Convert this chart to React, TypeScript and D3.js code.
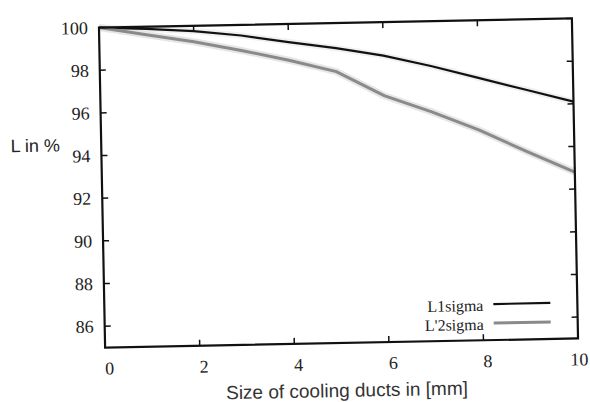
import React from "react";
import * as d3 from "d3";

const xValues = [0, 1, 2, 3, 4, 5, 6, 7, 8, 9, 10];
const sigma1 = [100, 99.9, 99.75, 99.5, 99.15, 98.82, 98.43, 97.9, 97.3, 96.7, 96.1];
const sigma2 = [100, 99.62, 99.25, 98.8, 98.3, 97.72, 96.55, 95.75, 94.85, 93.8, 92.8];
const xTicks = [0, 2, 4, 6, 8, 10];
const yTicks = [86, 88, 90, 92, 94, 96, 98, 100];
const seriesNames = ["L1sigma", "L'2sigma"];
const seriesColors = ["#111111", "#8a8a8a"];

const W = 590;
const H = 402;
const L = 102;
const R = 575;
const T = 23;
const B = 343;

export default function App() {
  const x = d3.scaleLinear().domain([0, 10]).range([L, R]);
  const y = d3.scaleLinear().domain([85, 100]).range([B, T]);
  const line = d3
    .line<number>()
    .x((_, i) => x(xValues[i]))
    .y((d) => y(d));
  const serif = "'Liberation Serif', 'DejaVu Serif', serif";
  const sans = "'Liberation Sans', Arial, sans-serif";
  const cx = (L + R) / 2;
  const cy = (T + B) / 2;
  const tk = 6;
  const series = [sigma1, sigma2];
  return (
    <svg
      width={W}
      height={H}
      style={{ position: "absolute", left: 0, top: 0, background: "#fff" }}
    >
      <g transform={`rotate(-1.1 ${cx} ${cy})`}>
        {/* gray halo to mimic scan speckle */}
        <path d={line(sigma2) || ""} fill="none" stroke="#d6d6d6" strokeWidth={7} opacity={0.6} />
        <path d={line(sigma1) || ""} fill="none" stroke="#e2e2e2" strokeWidth={6} opacity={0.5} />
        {series.map((s, i) => (
          <path
            key={i}
            d={line(s) || ""}
            fill="none"
            stroke={seriesColors[i]}
            strokeWidth={i === 0 ? 2.2 : 3}
          />
        ))}
        {yTicks.map((t) => (
          <g key={"y" + t}>
            <line x1={L} x2={L + tk} y1={y(t)} y2={y(t)} stroke="#111" strokeWidth={1.5} />
            <line x1={R} x2={R - tk} y1={y(t)} y2={y(t)} stroke="#111" strokeWidth={1.5} />
            <text
              x={L - 11}
              y={y(t)}
              dy="0.35em"
              textAnchor="end"
              fontFamily={serif}
              fontSize={18}
              fill="#222"
            >
              {t}
            </text>
          </g>
        ))}
        {xTicks.map((t) => (
          <g key={"x" + t}>
            <line x1={x(t)} x2={x(t)} y1={B} y2={B - tk} stroke="#111" strokeWidth={1.5} />
            <line x1={x(t)} x2={x(t)} y1={T} y2={T + tk} stroke="#111" strokeWidth={1.5} />
            <text
              x={t === 10 ? x(t) + 1 : x(t) + 4}
              y={B + 27}
              textAnchor="middle"
              fontFamily={serif}
              fontSize={18}
              fill="#222"
            >
              {t}
            </text>
          </g>
        ))}
        <rect x={L} y={T} width={R - L} height={B - T} fill="none" stroke="#111" strokeWidth={2.2} />
        {seriesNames.map((n, i) => (
          <g key={n}>
            <text
              x={R - 94}
              y={B - 35 + i * 19}
              dy="0.35em"
              textAnchor="end"
              fontFamily={serif}
              fontSize={16}
              fill="#222"
            >
              {n}
            </text>
            <line
              x1={R - 84}
              x2={R - 27}
              y1={B - 36 + i * 19}
              y2={B - 36 + i * 19}
              stroke={seriesColors[i]}
              strokeWidth={i === 0 ? 2.2 : 3}
            />
          </g>
        ))}
        <text x={36} y={146} textAnchor="middle" fontFamily={sans} fontSize={18} fill="#222">
          L in %
        </text>
        <text x={343} y={397} textAnchor="middle" fontFamily={sans} fontSize={19} fill="#333">
          Size of cooling ducts in [mm]
        </text>
      </g>
    </svg>
  );
}
